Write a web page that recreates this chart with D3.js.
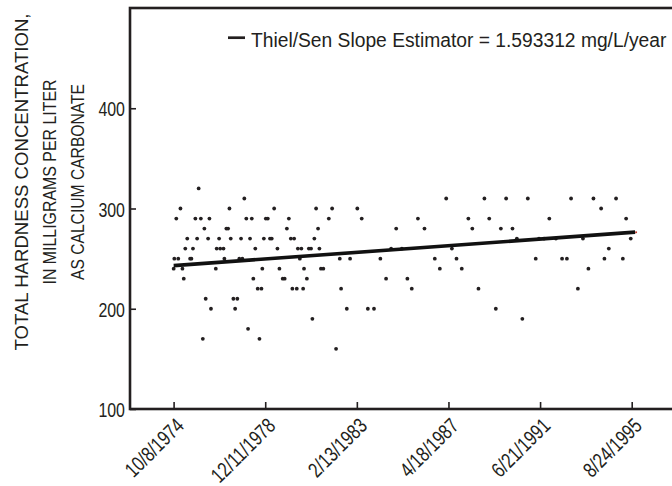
<!DOCTYPE html>
<html>
<head>
<meta charset="utf-8">
<script src="https://cdn.jsdelivr.net/npm/d3@7"></script>
<style>
  body { margin: 0; background: #fff; }
  text { font-family: "Liberation Sans", Arial, sans-serif; fill: #231f20; }
</style>
</head>
<body>
<svg id="chart"></svg>
<script>
/* CONSTANTS AND GLOBALS */
const width = 672,
  height = 486,
  margin = { top: 8, right: -20, bottom: 77, left: 130 };

/* DATA */
// sample dates as decimal years, hardness in mg/L
const sampleYears = [
  1975.91, 1977.99, 1975.08, 1977.31, 1979.35, 1974.89, 1975.76, 1976.01, 1976.40, 1978.08,
  1978.33, 1978.97, 1979.06, 1976.17, 1977.17, 1977.25, 1979.93, 1975.39, 1975.84, 1976.34,
  1976.84, 1977.37, 1977.84, 1978.25, 1978.88, 1979.16, 1979.24, 1975.30, 1975.65, 1976.73,
  1976.89, 1977.04, 1978.49, 1979.50, 1974.80, 1974.98, 1975.52, 1975.58, 1977.08, 1977.76,
  1977.90, 1974.77, 1975.17, 1976.69, 1978.81, 1979.59, 1975.23, 1978.40, 1979.74, 1979.83,
  1978.60, 1978.77, 1976.23, 1977.49, 1977.67, 1976.47, 1977.57, 1976.10, 1978.16, 1978.68,
  1981.26, 1981.99, 1983.14, 1980.02, 1981.84, 1983.34, 1981.35, 1984.91, 1980.11, 1980.26,
  1981.18, 1980.43, 1980.59, 1980.93, 1981.03, 1981.41, 1984.68, 1980.52, 1982.34, 1982.81,
  1984.19, 1980.71, 1981.48, 1981.59, 1980.84, 1984.45, 1980.18, 1980.38, 1980.67, 1982.40,
  1982.66, 1983.62, 1983.90, 1981.09, 1982.17,
  1987.19, 1988.93, 1989.92, 1985.90, 1988.20, 1989.15, 1986.20, 1988.38, 1989.68, 1990.21,
  1985.17, 1987.45, 1986.67, 1987.66, 1986.90, 1987.90, 1985.42, 1985.62, 1988.66, 1989.45,
  1990.91, 1992.88, 1993.90, 1994.93, 1994.25, 1991.89, 1995.39, 1990.41, 1991.42, 1991.65,
  1992.19, 1993.42, 1995.60, 1994.60, 1991.27, 1992.47, 1992.69, 1994.40, 1995.24, 1993.67,
  1993.19, 1990.66
];
const sampleValues = [
  320, 310, 300, 300, 300, 290, 290, 290, 290, 290,
  290, 290, 290, 280, 280, 280, 280, 270, 270, 270,
  270, 270, 270, 270, 270, 270, 270, 260, 260, 260,
  260, 260, 260, 260, 250, 250, 250, 250, 250, 250,
  250, 240, 240, 240, 240, 240, 230, 230, 230, 230,
  220, 220, 210, 210, 210, 200, 200, 170, 180, 170,
  300, 300, 300, 290, 290, 290, 280, 280, 270, 270,
  270, 260, 260, 260, 260, 260, 260, 250, 250, 250,
  250, 240, 240, 240, 230, 230, 220, 220, 220, 220,
  200, 200, 200, 190, 160,
  310, 310, 310, 290, 290, 290, 280, 280, 280, 280,
  260, 260, 250, 250, 240, 240, 230, 220, 220, 200,
  310, 310, 310, 310, 300, 290, 290, 270, 270, 270,
  270, 270, 270, 260, 250, 250, 250, 250, 250, 240,
  220, 190
];

// Thiel/Sen trend line end points
const trendYears = [1974.77, 1995.8];
const trendValues = [243.0, 276.4];

const tickDates = ["10/8/1974", "12/11/1978", "2/13/1983", "4/18/1987", "6/21/1991", "8/24/1995"];
const yTicks = [100, 200, 300, 400];
const yTitle = ["TOTAL HARDNESS CONCENTRATION,", "IN  MILLIGRAMS PER LITER", "AS CALCIUM CARBONATE"];
const yTitleLen = [337, 205, 196]; // measured line lengths (px)
const legendLabel = "Thiel/Sen Slope Estimator = 1.593312 mg/L/year";

/* HELPERS */
const parseDate = d3.timeParse("%m/%d/%Y");
const formatDate = d3.timeFormat("%-m/%-d/%Y");
function yearToDate(y) {
  const yr = Math.floor(y);
  const a = new Date(yr, 0, 1), b = new Date(yr + 1, 0, 1);
  return new Date(+a + (y - yr) * (b - a));
}

const ticks = tickDates.map(parseDate);
const points = sampleYears.map((y, i) => ({ date: yearToDate(y), value: sampleValues[i] }));
const trend = trendYears.map((y, i) => ({ date: yearToDate(y), value: trendValues[i] }));

/* SCALES */
const xScale = d3.scaleTime()
  .domain([ticks[0], ticks[ticks.length - 1]])
  .range([173.6, 631.7]);

const yScale = d3.scaleLinear()
  .domain([100, 500])
  .range([height - margin.bottom, margin.top]);

/* SVG */
const svg = d3.select("#chart")
  .attr("width", width)
  .attr("height", height);

const x0 = margin.left, x1 = width - margin.right;
const ink = "#231f20";

// frame
svg.append("rect")
  .attr("x", x0)
  .attr("y", yScale(500))
  .attr("width", x1 - x0)
  .attr("height", yScale(100) - yScale(500))
  .attr("fill", "none")
  .attr("stroke", ink)
  .attr("stroke-width", 2.6);

// y axis (ticks point inward)
const yAxis = svg.append("g")
  .attr("transform", `translate(${x0},0)`)
  .call(d3.axisRight(yScale).tickValues(yTicks).tickSize(6).tickFormat(d3.format("d")));
yAxis.select(".domain").remove();
yAxis.selectAll("line").attr("stroke", ink).attr("stroke-width", 1.6);
yAxis.selectAll("text")
  .attr("x", 0)
  .attr("dy", "0.36em")
  .attr("text-anchor", "end")
  .attr("transform", "translate(-5,0) scale(0.76,1)")
  .style("font-size", "21px")
  .attr("fill", ink);

// x axis
const xAxis = svg.append("g")
  .attr("transform", `translate(0,${yScale(100)})`)
  .call(d3.axisTop(xScale).tickValues(ticks).tickSize(7).tickFormat(formatDate));
xAxis.select(".domain").remove();
xAxis.selectAll("line").attr("stroke", ink).attr("stroke-width", 1.6);
xAxis.selectAll("text")
  .attr("y", 0)
  .attr("dy", 0)
  .attr("text-anchor", "end")
  .attr("transform", "translate(11,18) rotate(-45) scale(0.78,1)")
  .style("font-size", "21px")
  .attr("fill", ink);

// y title
const title = svg.append("text")
  .attr("transform", "translate(0,182) rotate(-90)")
  .attr("text-anchor", "middle")
  .style("font-size", "18px");
title.selectAll("tspan")
  .data(yTitle)
  .join("tspan")
  .attr("x", 0)
  .attr("y", (d, i) => 28 + i * 28)
  .attr("textLength", (d, i) => yTitleLen[i])
  .attr("lengthAdjust", "spacingAndGlyphs")
  .text(d => d);

// points
svg.append("g")
  .selectAll("circle")
  .data(points)
  .join("circle")
  .attr("cx", d => xScale(d.date))
  .attr("cy", d => yScale(d.value))
  .attr("r", 1.9)
  .attr("fill", ink);

// trend line
const line = d3.line()
  .x(d => xScale(d.date))
  .y(d => yScale(d.value));
svg.append("path")
  .datum(trend)
  .attr("d", line)
  .attr("fill", "none")
  .attr("stroke", "#111")
  .attr("stroke-width", 3.6);

// small red end marker as in the original
const last = trend[trend.length - 1];
svg.append("circle")
  .attr("cx", xScale(last.date) + 1)
  .attr("cy", yScale(last.value))
  .attr("r", 1)
  .attr("fill", "#c0392b");

// legend
svg.append("line")
  .attr("x1", 228).attr("x2", 245)
  .attr("y1", 37.7).attr("y2", 37.7)
  .attr("stroke", ink)
  .attr("stroke-width", 2.7);
svg.append("text")
  .attr("transform", "translate(251,47) scale(0.917,1)")
  .style("font-size", "21px")
  .text(legendLabel);
</script>
</body>
</html>
